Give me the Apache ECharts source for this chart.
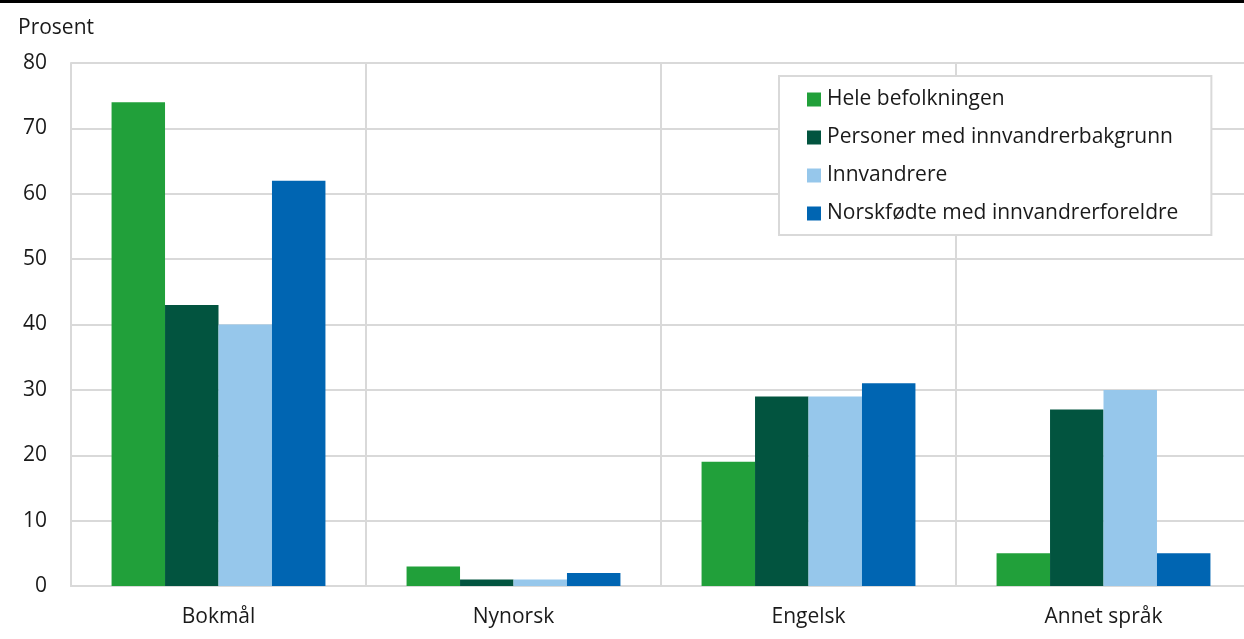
<!DOCTYPE html>
<html><head><meta charset="utf-8">
<script src="https://cdn.jsdelivr.net/npm/echarts@6/dist/echarts.min.js"></script>
<style>html,body{margin:0;padding:0;background:#fff;overflow:hidden}#c{width:1252px;height:639px}</style>
</head><body><div id="c"></div>
<script>
const categories = ['Bokmål', 'Nynorsk', 'Engelsk', 'Annet språk'];
const seriesNames = ['Hele befolkningen', 'Personer med innvandrerbakgrunn', 'Innvandrere', 'Norskfødte med innvandrerforeldre'];
const heleBefolkningen = [74, 3, 19, 5];
const innvandrerbakgrunn = [43, 1, 29, 27];
const innvandrere = [40, 1, 29, 30];
const norskfodte = [62, 2, 31, 5];
const yTicks = [0, 10, 20, 30, 40, 50, 60, 70, 80];
const colors = ['#21a03a', '#02543f', '#96c7eb', '#0065b2'];
const values = [heleBefolkningen, innvandrerbakgrunn, innvandrere, norskfodte];

const chart = echarts.init(document.getElementById('c'));
const font = '"Open Sans", sans-serif';
chart.setOption({
  animation: false,
  textStyle: { fontFamily: font },
  grid: { left: 71, width: 1180, top: 63, bottom: 53, containLabel: false },
  graphic: [
    { type: 'rect', left: 0, top: 0, shape: { width: 1252, height: 3 }, style: { fill: '#000' } },
    { type: 'text', left: 18, top: 18, style: { text: 'Prosent', fontFamily: font, fontSize: 21, fill: '#1a1a1a' } }
  ],
  legend: {
    orient: 'vertical',
    left: 779, top: 76,
    padding: [11, 33, 9, 28],
    borderColor: '#d9d9d9', borderWidth: 2,
    backgroundColor: '#fff',
    itemWidth: 14, itemHeight: 14, itemGap: 13,
    icon: 'rect',
    data: seriesNames,
    textStyle: { fontFamily: font, fontSize: 21, color: '#1a1a1a', padding: [0, 0, 0, 1], lineHeight: 25 }
  },
  xAxis: {
    type: 'category', data: categories,
    axisLine: { show: true, lineStyle: { color: '#d9d9d9', width: 2 } },
    axisTick: { show: false },
    splitLine: { show: true, lineStyle: { color: '#d9d9d9', width: 2 } },
    axisLabel: { fontFamily: font, fontSize: 21, color: '#1a1a1a', margin: 21 }
  },
  yAxis: {
    type: 'value', min: yTicks[0], max: yTicks[yTicks.length - 1], interval: 10,
    axisLine: { show: true, lineStyle: { color: '#d9d9d9', width: 2 } },
    axisTick: { show: false },
    splitLine: { show: true, lineStyle: { color: '#d9d9d9', width: 2 } },
    axisLabel: { fontFamily: font, fontSize: 21, color: '#1a1a1a', margin: 24 }
  },
  series: seriesNames.map((n, i) => ({
    name: n, type: 'bar', data: values[i],
    barGap: '0%', barCategoryGap: '27.5%',
    itemStyle: { color: colors[i] }
  }))
});
</script></body></html>
